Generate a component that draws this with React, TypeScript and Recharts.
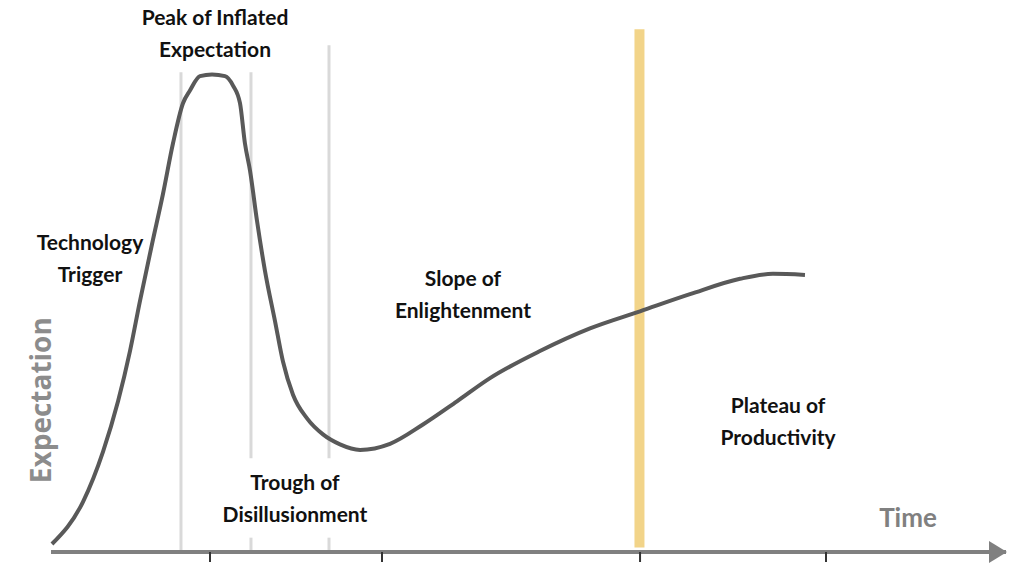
import React from 'react';
import { ComposedChart, Line, XAxis, YAxis, ReferenceLine, ReferenceDot } from 'recharts';

// Hype cycle curve: time (0-100) vs expectation (0-100)
const timeValues = [
  0.1, 3.35, 5.45, 7.02, 8.27, 9.32, 10.58, 11.73, 12.77, 13.82, 14.55, 15.6, 16.86,
  18.22, 19.06, 19.79, 20.31, 20.84, 21.57, 22.41, 23.46, 24.29, 25.34, 26.81, 28.48,
  30.26, 32.36, 35.5, 38.95, 42.51, 45.97, 51.2, 56.44, 61.68, 66.91, 72.15, 75.6, 78.95,
];
const expectationValues = [
  1.45, 9.1, 18.2, 27.3, 36.4, 45.5, 55.8, 64.9, 74.0, 81.3, 83.6, 86.2, 86.5,
  86.2, 84.5, 81.3, 74.0, 69.1, 60.0, 50.9, 41.8, 34.5, 28.5, 24.2, 21.3,
  19.5, 18.5, 19.6, 23.1, 27.3, 31.5, 36.4, 40.5, 43.6, 46.7, 49.5, 50.4, 50.2,
];
const axisTicks = [16.65, 34.66, 61.68, 81.15];

// phase divider lines: [time, from, to]
const phaseLines = [
  [13.61, 0, 86.9],
  [20.94, 17.0, 86.9],
  [20.94, 0, 2.6],
  [29.11, 17.0, 91.8],
  [29.11, 0, 2.6],
];
const highlightTime = 61.62;
const highlightTop = 94.7;

const phaseLabels = [
  { t: 17.17, e: 94.2, lines: ['Peak of Inflated', 'Expectation'] },
  { t: 4.08, e: 53.4, lines: ['Technology', 'Trigger'] },
  { t: 43.14, e: 46.9, lines: ['Slope of', 'Enlightenment'] },
  { t: 76.13, e: 23.9, lines: ['Plateau of', 'Productivity'] },
  { t: 25.55, e: 9.8, lines: ['Trough of', 'Disillusionment'] },
];

const data = timeValues.map((t, i) => ({ t, e: expectationValues[i] }));

const FONT = 'Lato, "Open Sans", sans-serif';

const MultiLineText = (lines: string[]) => (props: any) => {
  const { cx, cy } = props;
  const gap = 32;
  const start = cy - ((lines.length - 1) * gap) / 2;
  return (
    <g>
      {lines.map((l, i) => (
        <text
          key={i}
          x={cx}
          y={start + i * gap}
          textAnchor="middle"
          dominantBaseline="central"
          fontFamily={FONT}
          fontWeight={700}
          fontSize={21}
          fill="#111"
        >
          {l}
        </text>
      ))}
    </g>
  );
};

const Arrow = (props: any) => {
  const { cx, cy } = props;
  return <polygon points={`${cx - 17},${cy - 11} ${cx + 1},${cy} ${cx - 17},${cy + 11}`} fill="#808080" />;
};

const TimeLabel = (props: any) => (
  <text x={props.cx} y={props.cy} textAnchor="middle" dominantBaseline="central"
    fontFamily={FONT} fontWeight={700} fontSize={26} fill="#808080">Time</text>
);

const ExpectationLabel = (props: any) => (
  <text x={props.cx} y={props.cy} textAnchor="middle" dominantBaseline="central"
    transform={`rotate(-90 ${props.cx} ${props.cy})`}
    fontFamily='"Open Sans", sans-serif' fontWeight={700} fontSize={28} fill="#8c8c8c">Expectation</text>
);

export default function App() {
  return (
    <div style={{ position: 'absolute', left: 0, top: 0, background: '#fff' }}>
      <ComposedChart width={1023} height={567} data={data} margin={{ top: 0, right: 17, bottom: 0, left: 51 }}>
        <XAxis
          type="number"
          dataKey="t"
          domain={[0, 100]}
          ticks={axisTicks}
          height={15}
          tickSize={10}
          tick={() => <g />}
          axisLine={{ stroke: '#808080', strokeWidth: 4 }}
          tickLine={{ stroke: '#333', strokeWidth: 2 }}
        />
        <YAxis type="number" domain={[0, 100]} hide />
        {phaseLines.map(([t, a, b], i) => (
          <ReferenceLine
            key={i}
            segment={[{ x: t, y: a }, { x: t, y: b }]}
            stroke="#d9d9d9"
            strokeWidth={3}
            ifOverflow="visible"
          />
        ))}
        <ReferenceLine
          segment={[{ x: highlightTime, y: 0.8 }, { x: highlightTime, y: highlightTop }]}
          stroke="#f2d489"
          strokeWidth={10}
          ifOverflow="visible"
        />
        <Line
          type="monotone"
          dataKey="e"
          stroke="#595959"
          strokeWidth={4}
          dot={false}
          isAnimationActive={false}
        />
        <ReferenceDot x={100} y={0} r={0} ifOverflow="visible" shape={Arrow} />
        {phaseLabels.map((p, i) => (
          <ReferenceDot key={i} x={p.t} y={p.e} r={0} ifOverflow="visible" shape={MultiLineText(p.lines)} />
        ))}
        <ReferenceDot x={89.74} y={6.3} r={0} ifOverflow="visible" shape={TimeLabel} />
        <ReferenceDot x={-1.15} y={27.5} r={0} ifOverflow="visible" shape={ExpectationLabel} />
      </ComposedChart>
    </div>
  );
}
